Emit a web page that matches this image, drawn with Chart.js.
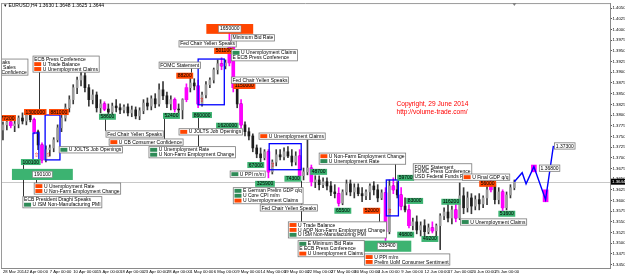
<!DOCTYPE html>
<html><head><meta charset="utf-8">
<script src="https://cdn.jsdelivr.net/npm/chart.js@4.4.1/dist/chart.umd.min.js"></script>
<style>html,body{margin:0;padding:0;background:#fff;overflow:hidden}#wrap{width:625px;height:276px;position:relative}</style>
</head><body><div id="wrap"><canvas id="c" width="625" height="276"></canvas></div>
<script>
// ---- DATA ----
const symbol = 'EURUSD,H4';
const days = ['28 Mar','31 Mar','1 Apr','2 Apr','3 Apr','4 Apr','7 Apr','8 Apr','9 Apr','10 Apr','11 Apr',
 '14 Apr','15 Apr','16 Apr','17 Apr','18 Apr','21 Apr','22 Apr','23 Apr','24 Apr','25 Apr',
 '28 Apr','29 Apr','30 Apr','1 May','2 May','5 May','6 May','7 May','8 May','9 May',
 '12 May','13 May','14 May','15 May','16 May','19 May','20 May','21 May','22 May','23 May',
 '26 May','27 May','28 May','29 May','30 May','2 Jun','3 Jun','4 Jun','5 Jun','6 Jun',
 '9 Jun','10 Jun','11 Jun','12 Jun','13 Jun','16 Jun','17 Jun','18 Jun','19 Jun','20 Jun',
 '23 Jun','24 Jun','25 Jun','26 Jun','27 Jun'];
const barHours = ['00:00','12:00'];
const futureSlots = 24;

const open = [1.3765,1.3777,1.3784,1.3775,1.3779,1.3793,1.3786,1.3800,1.3789,1.3761,
1.3730,1.3695,1.3719,1.3723,1.3742,1.3770,1.3793,1.3817,1.3836,1.3864,
1.3882,1.3892,1.3864,1.3836,1.3847,1.3817,1.3826,1.3814,1.3807,1.3821,
1.3817,1.3812,1.3819,1.3805,1.3812,1.3798,1.3810,1.3828,1.3821,1.3838,
1.3826,1.3859,1.3845,1.3826,1.3836,1.3814,1.3812,1.3836,1.3864,1.3875,
1.3868,1.3826,1.3847,1.3871,1.3882,1.3906,1.3920,1.3915,1.3922,1.3971,
1.3864,1.3826,1.3777,1.3761,1.3751,1.3723,1.3709,1.3700,1.3714,1.3667,
1.3690,1.3707,1.3702,1.3714,1.3704,1.3690,1.3704,1.3658,1.3667,1.3676,
1.3644,1.3648,1.3637,1.3644,1.3634,1.3620,1.3616,1.3594,1.3620,1.3639,
1.3620,1.3630,1.3616,1.3611,1.3620,1.3634,1.3625,1.3606,1.3618,1.3527,
1.3634,1.3625,1.3613,1.3587,1.3578,1.3541,1.3550,1.3531,1.3541,1.3527,
1.3536,1.3529,1.3541,1.3564,1.3573,1.3559,1.3578,1.3559,1.3611,1.3583,
1.3606,1.3587,1.3602,1.3592,1.3606,1.3625,1.3639,1.3602,1.3620,1.3583,
1.3613,1.3630];
const high = [1.3784,1.3796,1.3793,1.3789,1.3798,1.3805,1.3807,1.3812,1.3793,1.3765,
1.3735,1.3728,1.3730,1.3747,1.3777,1.3803,1.3826,1.3845,1.3871,1.3889,
1.3901,1.3899,1.3871,1.3859,1.3854,1.3836,1.3831,1.3826,1.3828,1.3836,
1.3826,1.3824,1.3826,1.3821,1.3819,1.3817,1.3836,1.3840,1.3845,1.3850,
1.3873,1.3878,1.3854,1.3845,1.3840,1.3826,1.3838,1.3873,1.3887,1.3885,
1.3882,1.3854,1.3878,1.3887,1.3910,1.3929,1.3934,1.3929,1.3992,1.3976,
1.3868,1.3836,1.3784,1.3770,1.3756,1.3730,1.3723,1.3719,1.3719,1.3695,
1.3719,1.3719,1.3723,1.3726,1.3719,1.3714,1.3719,1.3676,1.3742,1.3683,
1.3658,1.3658,1.3653,1.3653,1.3644,1.3637,1.3630,1.3625,1.3648,1.3648,
1.3639,1.3639,1.3630,1.3625,1.3639,1.3644,1.3637,1.3625,1.3630,1.3648,
1.3653,1.3644,1.3630,1.3606,1.3590,1.3559,1.3564,1.3550,1.3555,1.3545,
1.3550,1.3545,1.3569,1.3583,1.3592,1.3587,1.3592,1.3641,1.3630,1.3620,
1.3616,1.3611,1.3616,1.3611,1.3634,1.3653,1.3644,1.3630,1.3625,1.3620,
1.3637,1.3648];
const low = [1.3742,1.3765,1.3770,1.3761,1.3770,1.3779,1.3777,1.3784,1.3756,1.3719,
1.3688,1.3690,1.3704,1.3714,1.3737,1.3761,1.3786,1.3807,1.3826,1.3850,
1.3868,1.3854,1.3821,1.3826,1.3807,1.3805,1.3810,1.3798,1.3800,1.3807,
1.3803,1.3805,1.3798,1.3796,1.3791,1.3789,1.3803,1.3812,1.3812,1.3817,
1.3821,1.3836,1.3817,1.3812,1.3807,1.3803,1.3791,1.3831,1.3854,1.3859,
1.3817,1.3821,1.3840,1.3864,1.3875,1.3896,1.3906,1.3908,1.3915,1.3854,
1.3817,1.3770,1.3751,1.3742,1.3714,1.3700,1.3690,1.3695,1.3653,1.3662,
1.3681,1.3695,1.3695,1.3700,1.3681,1.3683,1.3648,1.3648,1.3660,1.3634,
1.3630,1.3625,1.3630,1.3625,1.3611,1.3606,1.3587,1.3590,1.3613,1.3611,
1.3606,1.3611,1.3597,1.3602,1.3602,1.3613,1.3597,1.3602,1.3506,1.3522,
1.3616,1.3606,1.3578,1.3573,1.3536,1.3531,1.3522,1.3517,1.3517,1.3522,
1.3524,1.3517,1.3485,1.3555,1.3550,1.3545,1.3550,1.3555,1.3569,1.3573,
1.3569,1.3578,1.3578,1.3583,1.3590,1.3620,1.3592,1.3592,1.3573,1.3578,
1.3606,1.3625];
const close = [1.3777,1.3784,1.3775,1.3779,1.3793,1.3786,1.3800,1.3789,1.3761,1.3730,
1.3695,1.3719,1.3723,1.3742,1.3770,1.3793,1.3817,1.3836,1.3864,1.3882,
1.3892,1.3864,1.3836,1.3847,1.3817,1.3826,1.3814,1.3807,1.3821,1.3817,
1.3812,1.3819,1.3805,1.3812,1.3798,1.3810,1.3828,1.3821,1.3838,1.3826,
1.3859,1.3845,1.3826,1.3836,1.3814,1.3812,1.3836,1.3864,1.3875,1.3868,
1.3826,1.3847,1.3871,1.3882,1.3906,1.3920,1.3915,1.3922,1.3971,1.3864,
1.3826,1.3777,1.3761,1.3751,1.3723,1.3709,1.3700,1.3714,1.3667,1.3690,
1.3707,1.3702,1.3714,1.3704,1.3690,1.3704,1.3658,1.3667,1.3676,1.3644,
1.3648,1.3637,1.3644,1.3634,1.3620,1.3616,1.3594,1.3620,1.3639,1.3620,
1.3630,1.3616,1.3611,1.3620,1.3634,1.3625,1.3606,1.3618,1.3527,1.3634,
1.3625,1.3613,1.3587,1.3578,1.3541,1.3550,1.3531,1.3541,1.3527,1.3536,
1.3529,1.3541,1.3564,1.3573,1.3559,1.3578,1.3559,1.3611,1.3583,1.3606,
1.3587,1.3602,1.3592,1.3606,1.3625,1.3639,1.3602,1.3620,1.3583,1.3613,
1.3630,1.3644];
const magentaBars = [2,8,10,26,44,47,50,56,58,59,61,68,76,79,86,98,100,102,104,110,116,125,128];

const projIdx   = [131, 133, 134, 136, 139, 141];
const projPrice = [1.3644, 1.3665, 1.3639, 1.3679, 1.3602, 1.3728];
const projBoxIdx = [136, 139];
const projBoxLo  = [1.3667, 1.3597];
const projBoxHi  = [1.3683, 1.3625];

const yMin = 1.3442, yMax = 1.4062, yStep = 0.0025;
const xLabelEvery = 6;

// event notes: anchor [bar index, price] = top-left corner
const noteBoxes = [
 {at:[6.4,1.3931], right:true, lines:[['','Fed Chair Yellen Speaks'],['r','U Pending Home Sales'],['r','U CB Consumer Confidence']]},
 {at:[7.7,1.3938], lines:[['','ECB Press Conference'],['r','U Trade Balance'],['r','U Unemployment Claims']]},
 {at:[26.4,1.3763], lines:[['','Fed Chair Yellen Speaks']]},
 {at:[27.2,1.3744], lines:[['r','U CB Consumer Confidence']]},
 {at:[40.0,1.3924], lines:[['','FOMC Statement']]},
 {at:[45.1,1.3768], lines:[['r','U JOLTS Job Openings']]},
 {at:[14.4,1.3726], lines:[['g','U JOLTS Job Openings']]},
 {at:[37.4,1.3726], lines:[['g','U Unemployment Rate'],['g','U Non-Farm Employment Change']]},
 {at:[8.0,1.3641], lines:[['r','U Unemployment Rate'],['r','U Non-Farm Employment Change']]},
 {at:[5.1,1.3609], lines:[['','ECB President Draghi Speaks'],['g','U ISM Non-Manufacturing PMI']]},
 {at:[45.1,1.3974], lines:[['','Fed Chair Yellen Speaks']]},
 {at:[58.5,1.3988], lines:[['','Minimum Bid Rate']]},
 {at:[58.5,1.3953], lines:[['g','U Unemployment Claims'],['','E ECB Press Conference']]},
 {at:[58.5,1.3889], lines:[['','Fed Chair Yellen Speaks']]},
 {at:[65.6,1.3758], lines:[['r','U Unemployment Claims']]},
 {at:[58.2,1.3669], lines:[['g','U PPI m/m']]},
 {at:[59.0,1.3630], lines:[['g','E German Prelim GDP q/q'],['g','U Core CPI m/m'],['r','U Unemployment Claims']]},
 {at:[65.9,1.3590], lines:[['','Fed Chair Yellen Speaks']]},
 {at:[81.0,1.3711], lines:[['r','U Non-Farm Employment Change'],['g','U Unemployment Rate']]},
 {at:[73.1,1.3550], lines:[['r','U Trade Balance'],['r','U ADP Non-Farm Employment Change'],['g','U ISM Non-Manufacturing PMI']]},
 {at:[75.6,1.3506], lines:[['g','E Minimum Bid Rate'],['','E ECB Press Conference'],['r','U Unemployment Claims']]},
 {at:[92.6,1.3475], lines:[['r','U PPI m/m'],['r','Prelim UoM Consumer Sentiment']]},
 {at:[105.1,1.3686], lines:[['','FOMC Statement'],['','FOMC Press Conference'],['','USD Federal Funds Rate']]},
 {at:[117.7,1.3662], lines:[['r','U Final GDP q/q']]},
 {at:[117.2,1.3557], lines:[['g','U Unemployment Claims']]},
 {at:[137.4,1.3683], lines:[['','1.36800']]},
 {at:[141.3,1.3735], lines:[['','1.37300']]}
];
const volTags = [
 {at:[-1.0,1.3800], t:'77200', c:'r'}, {at:[5.4,1.3814], t:'1300000', c:'r'}, {at:[11.8,1.3814], t:'881000', c:'r'},
 {at:[4.6,1.3697], t:'100100', c:'g'}, {at:[24.6,1.3803], t:'58600', c:'g'}, {at:[41.0,1.3805], t:'52400', c:'g'},
 {at:[44.4,1.3899], t:'88200', c:'r'}, {at:[48.5,1.3807], t:'860000', c:'g'}, {at:[54.1,1.3957], t:'501100', c:'r'},
 {at:[59.0,1.3875], t:'1150000', c:'r'}, {at:[54.6,1.3782], t:'1620000', c:'g'}, {at:[62.6,1.3690], t:'67000', c:'g'},
 {at:[64.6,1.3646], t:'325900', c:'g'}, {at:[72.1,1.3658], t:'74300', c:'g'}, {at:[78.7,1.3674], t:'48700', c:'g'},
 {at:[84.9,1.3583], t:'65500', c:'g'}, {at:[92.3,1.3583], t:'52000', c:'r'}, {at:[101.0,1.3660], t:'59700', c:'g'},
 {at:[103.3,1.3606], t:'83000', c:'g'}, {at:[101.0,1.3527], t:'46800', c:'g'}, {at:[107.2,1.3517], t:'49200', c:'g'},
 {at:[112.3,1.3604], t:'116200', c:'g'}, {at:[122.0,1.3646], t:'56000', c:'r'}, {at:[126.9,1.3576], t:'51600', c:'g'}
];
const zones = [
 {from:[2.3,1.3674], to:[17.9,1.3648], c:'g', t:'190100'},
 {from:[52.1,1.4013], to:[64.1,1.3990], c:'r', t:'1650000'},
 {from:[92.3,1.3506], to:[104.6,1.3480], c:'g', t:'335400'}
];
const blueRects = [
 {from:[7.7,1.3758], to:[9.2,1.3695]}, {from:[10.8,1.3800], to:[14.6,1.3695]},
 {from:[50.0,1.3931], to:[56.7,1.3824]}, {from:[68.2,1.3733], to:[76.4,1.3672]},
 {from:[98.2,1.3648], to:[101.3,1.3564]}
];
const stems = [[9.2,1.3903,1.3814],[26.2,1.3791,1.3763],[41.3,1.3793,1.3744],[50.0,1.3796,1.3726],
 [5.1,1.3686,1.3609],[8.5,1.3648,1.3641],[100.3,1.3688,1.3648],[76.4,1.3646,1.3550],[96.2,1.3571,1.3550],[48.2,1.3913,1.3899]];
const copyrightAt = [100.8, 1.3833];
const copyrightLines = ['Copyright, 29 June 2014', 'http://volume-trade.com/'];

// ---- BUILD ----
const N = open.length;
const labels = [];
days.forEach(d => barHours.forEach(h => labels.push(d + ' ' + h)));
for (let k = 0; k < futureSlots; k++) labels.push('');
const magSet = new Set(magentaBars);
const wickData = high.map((h, i) => [low[i], h]);
const bodyData = open.map((o, i) => [Math.min(o, close[i]), Math.max(o, close[i])]);
const magData = bodyData.map((b, i) => magSet.has(i) ? b : null);
const projLine = labels.map(() => null);
projIdx.forEach((ix, k) => projLine[ix] = projPrice[k]);
const projBoxes = labels.map(() => null);
projBoxIdx.forEach((ix, k) => projBoxes[ix] = [projBoxLo[k], projBoxHi[k]]);
const lastPrice = close[N - 1];

const FONT = '"Liberation Sans", Arial, sans-serif';
const RED = '#ff4500', GREEN = '#3cb371';

const overlay = {
  id: 'overlay',
  beforeDatasetsDraw(chart) {
    const {ctx, chartArea: a, scales: {y}} = chart;
    ctx.save();
    const yy = Math.round(y.getPixelForValue(lastPrice)) + 0.5;
    ctx.strokeStyle = '#c8c8c8'; ctx.lineWidth = 1;
    ctx.beginPath(); ctx.moveTo(a.left, yy); ctx.lineTo(a.right, yy); ctx.stroke();
    ctx.restore();
  },
  afterDatasetsDraw(chart) {
    const {ctx, chartArea: a, scales: {x, y}} = chart;
    const X = v => x.getPixelForValue(v), Y = v => y.getPixelForValue(v);
    ctx.save();
    ctx.beginPath(); ctx.rect(a.left, a.top, a.right - a.left, a.bottom - a.top); ctx.clip();
    ctx.textBaseline = 'top';
    ctx.strokeStyle = '#000'; ctx.lineWidth = 0.8;
    stems.forEach(([i, p1, p2]) => {
      const xx = Math.round(X(i)) + 0.5;
      ctx.beginPath(); ctx.moveTo(xx, Y(p1)); ctx.lineTo(xx, Y(p2)); ctx.stroke();
    });
    ctx.strokeStyle = '#0000ff'; ctx.lineWidth = 1.3;
    blueRects.forEach(r => {
      const x1 = X(r.from[0]), y1 = Y(r.from[1]), x2 = X(r.to[0]), y2 = Y(r.to[1]);
      ctx.strokeRect(x1, y1, x2 - x1, y2 - y1);
      ctx.fillStyle = '#ff0000'; ctx.font = '6px "DejaVu Sans", sans-serif';
      ctx.fillText('\u21e7', x1 + 1, y2 - 7);
    });
    ctx.font = '5px ' + FONT;
    zones.forEach(z => {
      const x1 = X(z.from[0]), y1 = Y(z.from[1]), x2 = X(z.to[0]), y2 = Y(z.to[1]);
      ctx.fillStyle = z.c === 'r' ? RED : GREEN;
      ctx.fillRect(x1, y1, x2 - x1, y2 - y1);
      const tw = ctx.measureText(z.t).width + 3, cx = (x1 + x2) / 2, cy = (y1 + y2) / 2;
      ctx.fillStyle = '#fff'; ctx.fillRect(cx - tw / 2, cy - 3.2, tw, 6.4);
      ctx.strokeStyle = '#808080'; ctx.lineWidth = 0.6; ctx.strokeRect(cx - tw / 2, cy - 3.2, tw, 6.4);
      ctx.fillStyle = '#000'; ctx.fillText(z.t, cx - tw / 2 + 1.5, cy - 2.6);
    });
    volTags.forEach(v => {
      const lx = X(v.at[0]), ty = Y(v.at[1]);
      const tw = ctx.measureText(v.t).width + 3;
      ctx.fillStyle = v.c === 'r' ? RED : GREEN;
      ctx.fillRect(lx, ty, tw, 6);
      ctx.fillStyle = '#000'; ctx.fillText(v.t, lx + 1.5, ty + 0.6);
    });
    const lh = 4.9, pad = 1.2, mw = 7;
    noteBoxes.forEach(b => {
      let w = 0;
      b.lines.forEach(([m, t]) => { const tw = ctx.measureText(t).width + (m ? mw + 1.5 : 0); if (tw > w) w = tw; });
      w += pad * 2;
      const h = b.lines.length * lh + 1.4;
      let lx = X(b.at[0]); const ty = Y(b.at[1]);
      if (b.right) lx -= w;
      ctx.fillStyle = '#fff'; ctx.fillRect(lx, ty, w, h);
      ctx.strokeStyle = '#7a7a7a'; ctx.lineWidth = 0.8; ctx.strokeRect(lx, ty, w, h);
      b.lines.forEach(([m, t], k) => {
        let tx = lx + pad; const yy = ty + 0.9 + k * lh;
        if (m) { ctx.fillStyle = m === 'r' ? RED : '#2e8b57'; ctx.fillRect(tx, yy + 0.3, mw, lh - 1); tx += mw + 1.5; }
        ctx.fillStyle = '#000'; ctx.fillText(t, tx, yy);
      });
    });
    ctx.fillStyle = '#ff0000'; ctx.font = '6.6px ' + FONT;
    copyrightLines.forEach((t, k) => ctx.fillText(t, X(copyrightAt[0]), Y(copyrightAt[1]) + k * 8));
    ctx.restore();
  },
  afterDraw(chart) {
    const {ctx, chartArea: a, scales: {x, y}} = chart;
    ctx.save();
    ctx.strokeStyle = '#9a9a9a'; ctx.lineWidth = 1;
    ctx.beginPath(); ctx.moveTo(a.left + 0.5, a.top); ctx.lineTo(a.left + 0.5, a.bottom);
    ctx.moveTo(a.left, a.top + 0.5); ctx.lineTo(a.right, a.top + 0.5); ctx.stroke();
    ctx.fillStyle = '#000'; ctx.font = '5px ' + FONT; ctx.textBaseline = 'top';
    ctx.fillText('\u25be ' + symbol + ' ' + [open[N-1], high[N-1], low[N-1], close[N-1]].map(v => v.toFixed(4)).join(' '), a.left + 3, a.top);
    const sx = x.getPixelForValue(N - 1);
    ctx.fillStyle = '#808080';
    ctx.beginPath(); ctx.moveTo(sx - 2, a.top); ctx.lineTo(sx + 2, a.top); ctx.lineTo(sx, a.top + 3); ctx.fill();
    const yy = y.getPixelForValue(lastPrice);
    ctx.fillStyle = '#000'; ctx.fillRect(a.right + 1, yy - 3, 15, 6);
    ctx.fillStyle = '#fff'; ctx.textBaseline = 'middle'; ctx.font = '4.4px ' + FONT;
    ctx.fillText(lastPrice.toFixed(4), a.right + 2, yy + 0.3);
    ctx.restore();
  }
};

const candleColor = i => close[i] >= open[i] ? '#9c9c9c' : '#1c1c1c';

new Chart(document.getElementById('c'), {
  type: 'bar',
  data: {
    labels,
    datasets: [
      {type: 'line', label: 'projection', data: projLine, spanGaps: true, borderColor: '#0000ff', borderWidth: 1.4,
       pointRadius: 0, tension: 0, order: 0},
      {label: 'projected zones', data: projBoxes, backgroundColor: '#ff00ff', barThickness: 5, grouped: false, order: 1},
      {label: 'highlight', data: magData, backgroundColor: '#ff00ff', barThickness: 3, grouped: false, order: 2},
      {label: 'body', data: bodyData, backgroundColor: c => candleColor(c.dataIndex), barThickness: 2, grouped: false, order: 3},
      {label: 'wick', data: wickData, backgroundColor: c => magSet.has(c.dataIndex) ? '#ff00ff' : '#3a3a3a', barThickness: 1, grouped: false, order: 4}
    ]
  },
  options: {
    responsive: false, animation: false, devicePixelRatio: 1,
    layout: {padding: {top: 3, left: 1, right: 0, bottom: 0}},
    plugins: {legend: {display: false}, tooltip: {enabled: false}},
    scales: {
      x: {
        type: 'category', offset: true,
        grid: {display: false, drawTicks: false, tickLength: 0},
        border: {display: true, color: '#8a8a8a', width: 1},
        ticks: {autoSkip: false, maxRotation: 0, minRotation: 0, align: 'start', padding: 1.5,
          font: {size: 4.2, family: FONT}, color: '#000',
          callback: (v, i) => (i < N && i % xLabelEvery === 0) ? (i === 0 ? days[0] + ' 2014' : labels[i]) : ''},
        afterFit: s => { s.height = 8; }
      },
      y: {
        position: 'right', min: yMin, max: yMax,
        grid: {drawOnChartArea: false, drawTicks: true, tickLength: 2, color: '#555'},
        border: {display: true, color: '#8a8a8a', width: 1},
        ticks: {stepSize: yStep, includeBounds: false, padding: 0.5, font: {size: 4.3, family: FONT}, color: '#000',
          callback: v => v.toFixed(4)},
        afterFit: s => { s.width = 15; }
      }
    }
  },
  plugins: [overlay]
});
</script>
</body></html>
